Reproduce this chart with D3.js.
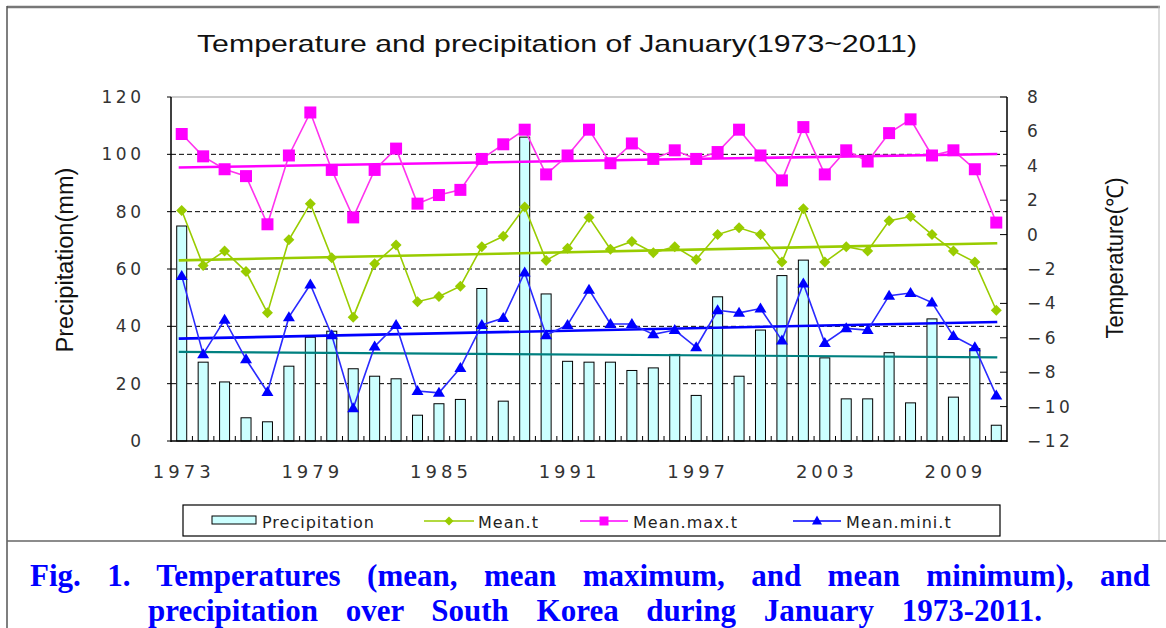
<!DOCTYPE html>
<html><head><meta charset="utf-8">
<script src="https://cdn.jsdelivr.net/npm/d3@7/dist/d3.min.js"></script>
<style>body{margin:0;background:#fff} svg{display:block}</style>
</head><body><svg id="c" width="1166" height="628"></svg>
<script>
const years = [1973,1974,1975,1976,1977,1978,1979,1980,1981,1982,1983,1984,1985,1986,1987,1988,1989,1990,1991,1992,1993,1994,1995,1996,1997,1998,1999,2000,2001,2002,2003,2004,2005,2006,2007,2008,2009,2010,2011];
const precipitation = [75,27.5,20.6,8.1,6.7,26.1,36.2,38.3,25.2,22.6,21.7,9.0,13.0,14.5,53.2,13.9,106,51.3,27.8,27.5,27.5,24.6,25.5,30.2,15.9,50.3,22.6,38.7,57.7,63.1,29.0,14.7,14.7,30.8,13.3,42.6,15.3,32.2,5.5];
const meanT = [1.4,-1.8,-0.95,-2.15,-4.55,-0.3,1.8,-1.35,-4.8,-1.7,-0.6,-3.9,-3.6,-3.0,-0.7,-0.1,1.6,-1.5,-0.8,1.0,-0.85,-0.4,-1.05,-0.7,-1.45,0.0,0.4,0.0,-1.6,1.5,-1.6,-0.7,-0.95,0.8,1.05,0.0,-0.95,-1.6,-4.4];
const maxT = [5.85,4.55,3.8,3.4,0.6,4.6,7.1,3.76,1.0,3.76,5.0,1.8,2.3,2.6,4.4,5.25,6.1,3.5,4.6,6.1,4.15,5.3,4.4,4.9,4.4,4.8,6.1,4.6,3.15,6.25,3.5,4.9,4.25,5.9,6.7,4.6,4.9,3.8,0.7];
const minT = [-2.4,-6.95,-4.95,-7.25,-9.15,-4.8,-2.9,-5.85,-10.1,-6.5,-5.25,-9.1,-9.2,-7.75,-5.25,-4.85,-2.2,-5.85,-5.25,-3.2,-5.2,-5.2,-5.8,-5.55,-6.55,-4.4,-4.55,-4.3,-6.15,-2.85,-6.3,-5.45,-5.55,-3.55,-3.4,-3.95,-5.9,-6.55,-9.35];
// trend lines: value at 1973 and at 2011
const trendPrecip = [31.1, 29.2];
const trendMean = [-1.5, -0.5];
const trendMax = [3.9, 4.69];
const trendMin = [-6.05, -5.08];
const precipTicks = [0,20,40,60,80,100,120];
const gridTicks = [20,40,60,80,100];
const tempTicks = [-12,-10,-8,-6,-4,-2,0,2,4,6,8];
const xLabelYears = [1973,1979,1985,1991,1997,2003,2009];
const legendLabels = ["Precipitation","Mean.t","Mean.max.t","Mean.mini.t"];

const C = {bar:"#ccffff", mean:"#99cc00", max:"#ff00ff", maxLine:"#ff33ee", min:"#0000ff", minLine:"#2a2aff", pTrend:"#008080"};
const svg = d3.select("#c");
svg.append("rect").attr("width",1166).attr("height",628).attr("fill","#fff");

const L=171, R=1007, T=97, B=441;
const x = d3.scaleBand().domain(years).range([L,R]);
const cx = d => x(d) + x.bandwidth()/2;
const yP = d3.scaleLinear().domain([0,120]).range([B,T]);
const yT = d3.scaleLinear().domain([-12,8]).range([B,T]);

// outer frame
const fr = svg.append("g").attr("fill","none");
fr.append("line").attr("x1",7).attr("x2",1160).attr("y1",7).attr("y2",7).attr("stroke","#777").attr("stroke-width",2.5);
fr.append("line").attr("x1",7).attr("x2",7).attr("y1",6).attr("y2",628).attr("stroke","#555").attr("stroke-width",1.5);
fr.append("line").attr("x1",1159).attr("x2",1159).attr("y1",6).attr("y2",541).attr("stroke","#bbb").attr("stroke-width",1);
fr.append("line").attr("x1",7).attr("x2",1166).attr("y1",541).attr("y2",541).attr("stroke","#666").attr("stroke-width",1.5);

// title
svg.append("text").attr("x",557).attr("y",52).attr("text-anchor","middle")
  .attr("font-family","Liberation Sans, Arial, sans-serif").attr("font-size",24).attr("fill","#111")
  .attr("textLength",720).attr("lengthAdjust","spacingAndGlyphs")
  .text("Temperature and precipitation of January(1973~2011)");

// gridlines
svg.append("g").selectAll("line").data(gridTicks).join("line")
  .attr("x1",L).attr("x2",R).attr("y1",d=>yP(d)).attr("y2",d=>yP(d))
  .attr("stroke","#000").attr("stroke-width",1).attr("stroke-dasharray","5,3");

// top border of plot
svg.append("line").attr("x1",L).attr("x2",R).attr("y1",T).attr("y2",T).attr("stroke","#999").attr("stroke-width",1.2);

// bars
const bw = 10;
svg.append("g").selectAll("rect").data(years).join("rect")
  .attr("x",(d)=>cx(d)-bw/2).attr("width",bw)
  .attr("y",(d,i)=>yP(precipitation[i])).attr("height",(d,i)=>B-yP(precipitation[i]))
  .attr("fill",C.bar).attr("stroke","#000").attr("stroke-width",1);

// trend lines
function trend(vals, scale, color, w){
  svg.append("line").attr("x1",cx(years[0])-3).attr("x2",cx(years[years.length-1])+1)
    .attr("y1",scale(vals[0])).attr("y2",scale(vals[1]))
    .attr("stroke",color).attr("stroke-width",w);
}
trend(trendPrecip, yP, C.pTrend, 2.2);
trend(trendMin, yT, C.min, 2.6);
trend(trendMean, yT, C.mean, 2.6);
trend(trendMax, yT, C.max, 2.6);

// data lines
function series(vals, color, w){
  svg.append("path").datum(vals)
    .attr("d", d3.line().x((v,i)=>cx(years[i])).y(v=>yT(v)))
    .attr("fill","none").attr("stroke",color).attr("stroke-width",w);
}
series(minT, C.minLine, 1.6);
series(meanT, C.mean, 1.6);
series(maxT, C.maxLine, 1.6);

const sq = s => `M${-s/2},${-s/2}h${s}v${s}h${-s}Z`;
const dia = s => `M0,${-s/2}L${s/2},0L0,${s/2}L${-s/2},0Z`;
const tri = (w,h) => `M0,${-h*0.6}L${w/2},${h*0.4}L${-w/2},${h*0.4}Z`;

svg.append("g").selectAll("path").data(minT).join("path")
  .attr("transform",(v,i)=>`translate(${cx(years[i])},${yT(v)})`).attr("d",tri(12,10)).attr("fill",C.min);
svg.append("g").selectAll("path").data(meanT).join("path")
  .attr("transform",(v,i)=>`translate(${cx(years[i])},${yT(v)})`).attr("d",dia(11)).attr("fill",C.mean);
svg.append("g").selectAll("path").data(maxT).join("path")
  .attr("transform",(v,i)=>`translate(${cx(years[i])},${yT(v)})`).attr("d",sq(12)).attr("fill",C.max);

// axes lines
const ax = svg.append("g").attr("stroke","#000");
ax.append("line").attr("x1",L).attr("x2",L).attr("y1",T).attr("y2",B+1).attr("stroke-width",1.5);
ax.append("line").attr("x1",R).attr("x2",R).attr("y1",T).attr("y2",B+1).attr("stroke-width",1.5);
ax.append("line").attr("x1",L).attr("x2",R).attr("y1",B).attr("y2",B).attr("stroke-width",1.5);
// bottom ticks at category boundaries
ax.selectAll(".bt").data(years.slice(1)).join("line")
  .attr("x1",d=>x(d)).attr("x2",d=>x(d)).attr("y1",B).attr("y2",B-5).attr("stroke-width",1);
// left ticks (outward)
ax.selectAll(".lt").data(precipTicks).join("line")
  .attr("x1",L-4).attr("x2",L).attr("y1",d=>yP(d)).attr("y2",d=>yP(d)).attr("stroke-width",1);
// right ticks (inward)
ax.selectAll(".rt").data(tempTicks).join("line")
  .attr("x1",R-7).attr("x2",R).attr("y1",d=>yT(d)).attr("y2",d=>yT(d)).attr("stroke-width",1);

// tick labels
const tf = "DejaVu Sans, Verdana, sans-serif";
const ls = 3.5;
svg.append("g").selectAll("text").data(precipTicks).join("text")
  .attr("x",141+ls).attr("y",d=>yP(d)+6).attr("text-anchor","end")
  .attr("font-family",tf).attr("font-size",17).attr("letter-spacing",ls).attr("fill","#333")
  .text(d=>d);
svg.append("g").selectAll("text").data(tempTicks).join("text")
  .attr("x",1027).attr("y",d=>yT(d)+6).attr("text-anchor","start")
  .attr("font-family",tf).attr("font-size",17).attr("letter-spacing",ls).attr("fill","#333")
  .text(d=>d<0 ? "\u2212"+Math.abs(d) : d);
svg.append("g").selectAll("text").data(xLabelYears).join("text")
  .attr("x",d=>cx(d)+2).attr("y",478).attr("text-anchor","middle")
  .attr("font-family",tf).attr("font-size",18).attr("letter-spacing",4).attr("fill","#333")
  .text(d=>d);

// axis titles
svg.append("text").attr("transform","translate(73,260) rotate(-90)").attr("text-anchor","middle")
  .attr("font-family","Liberation Sans, Arial, sans-serif").attr("font-size",23).attr("fill","#111")
  .attr("textLength",185).attr("lengthAdjust","spacingAndGlyphs").text("Precipitation(mm)");
svg.append("text").attr("transform","translate(1123,258) rotate(-90)").attr("text-anchor","middle")
  .attr("font-family","Liberation Sans, Arial, sans-serif").attr("font-size",23).attr("fill","#111")
  .attr("textLength",161).attr("lengthAdjust","spacingAndGlyphs").text("Temperature(\u2103)");

// legend
const lg = svg.append("g");
lg.append("rect").attr("x",183).attr("y",505).attr("width",817).attr("height",31)
  .attr("fill","#fff").attr("stroke","#000").attr("stroke-width",1.2);
const ly = 521;
lg.append("rect").attr("x",212).attr("y",ly-5).attr("width",44).attr("height",8)
  .attr("fill",C.bar).attr("stroke","#000").attr("stroke-width",1);
const legItems = [
  {x1:424,x2:474,color:C.mean,m:dia(9)},
  {x1:580,x2:628,color:C.max,m:sq(9)},
  {x1:793,x2:841,color:C.min,m:tri(10,9)}
];
legItems.forEach(it=>{
  lg.append("line").attr("x1",it.x1).attr("x2",it.x2).attr("y1",ly).attr("y2",ly).attr("stroke",it.color).attr("stroke-width",1.6);
  lg.append("path").attr("transform",`translate(${(it.x1+it.x2)/2},${ly})`).attr("d",it.m).attr("fill",it.color);
});
const legTextX = [262,478,633,846];
lg.selectAll(".lt").data(legendLabels).join("text")
  .attr("x",(d,i)=>legTextX[i]).attr("y",528)
  .attr("font-family",tf).attr("font-size",16).attr("letter-spacing",1).attr("fill","#222")
  .text(d=>d);

// caption
function justified(str, x1, x2, y){
  const t = svg.append("text").attr("x",x1).attr("y",y)
    .attr("font-family","Liberation Serif, Times New Roman, serif").attr("font-weight","bold")
    .attr("font-size",31).attr("fill","#0000ff").text(str);
  const w = t.node().getComputedTextLength();
  const spaces = (str.match(/ /g)||[]).length;
  t.attr("word-spacing", (x2-x1-w)/spaces);
}
justified("Fig. 1. Temperatures (mean, mean maximum, and mean minimum), and", 30, 1150, 586);
justified("precipitation over South Korea during January 1973-2011.", 148, 1042, 621);
</script></body></html>
